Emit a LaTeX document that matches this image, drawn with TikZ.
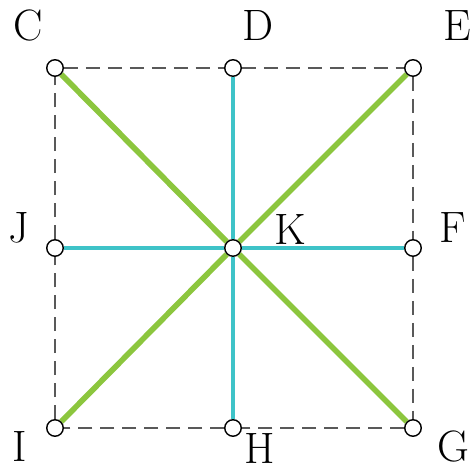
\documentclass[tikz,border=0pt]{standalone}
\usepackage{tikz}
\usetikzlibrary{positioning,backgrounds}
\definecolor{leafgreen}{HTML}{8CC63E}
\definecolor{aqua}{HTML}{3EC3C8}

\begin{document}
\begin{tikzpicture}[x=0.02cm, y=-0.02cm,
  dot/.style={draw, circle, fill=white, inner sep=0pt, minimum size=0.33cm, line width=0.8pt},
  lbl/.style={inner sep=0pt, font=\fontsize{25}{28}\selectfont},
  frame/.style={draw=gray!70!black, dash pattern=on 8pt off 4.5pt, line width=1.2pt},
  diag/.style={draw=leafgreen, line width=3.2pt},
  cross/.style={draw=aqua, line width=2.6pt}
]
  \useasboundingbox (0,0) rectangle (474,472);

  \node[dot] (c) at (55,68) {};
  \node[dot] (d) at (233,68) {};
  \node[dot] (e) at (413,68) {};
  \node[dot] (j) at (55,248) {};
  \node[dot] (k) at (233,248) {};
  \node[dot] (f) at (413,248) {};
  \node[dot] (i) at (55,428) {};
  \node[dot] (h) at (233,428) {};
  \node[dot] (g) at (413,428) {};

  \node[lbl] (lc) at (28,26) {C};
  \node[lbl] (ld) at (258,26) {D};
  \node[lbl] (le) at (457,26) {E};
  \node[lbl] (lj) at (19,228) {J};
  \node[lbl] (lk) at (290,230) {K};
  \node[lbl] (lf) at (453,228) {F};
  \node[lbl] (li) at (20,447) {I};
  \node[lbl] (lh) at (260,449) {H};
  \node[lbl] (lg) at (453,447) {G};

  \begin{scope}[on background layer]
    \draw[frame] (c) -- (d) -- (e) -- (f) -- (g) -- (h) -- (i) -- (j) -- (c);
    \draw[diag] (c) -- (k) -- (g);
    \draw[diag] (e) -- (k) -- (i);
    \draw[cross] (d) -- (k) -- (h);
    \draw[cross] (j) -- (k) -- (f);
  \end{scope}
\end{tikzpicture}
\end{document}
